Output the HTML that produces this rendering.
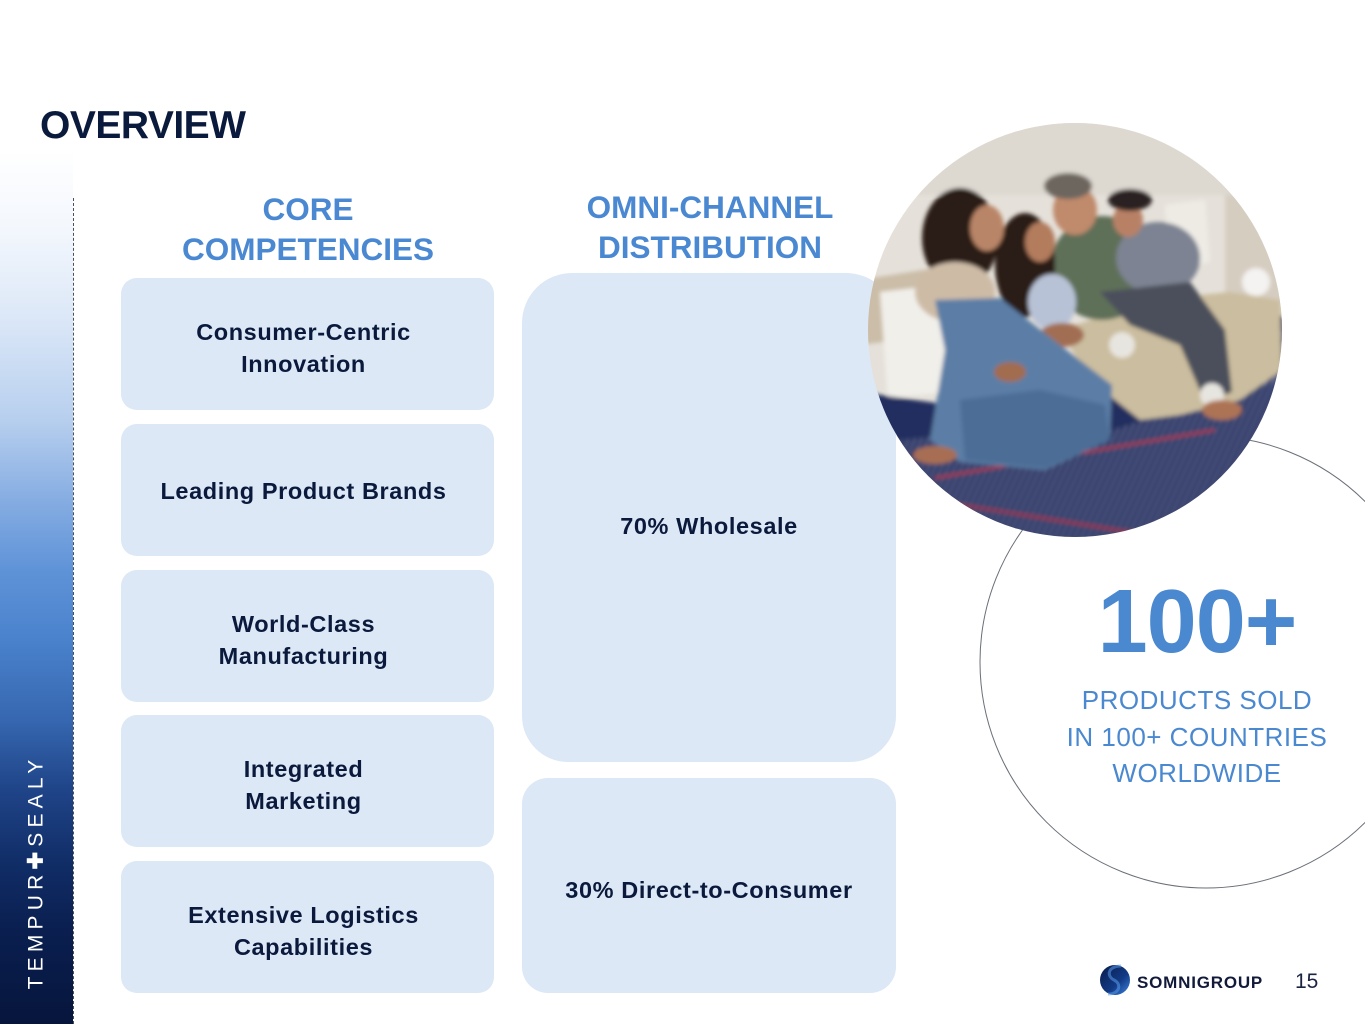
<!DOCTYPE html>
<html>
<head>
<meta charset="utf-8">
<style>
  html,body{margin:0;padding:0;}
  body{width:1365px;height:1024px;position:relative;overflow:hidden;background:#fff;font-family:"Liberation Sans",Arial,sans-serif;}
  .sidebar{position:absolute;left:0;top:0;width:73px;height:1024px;
    background:linear-gradient(to bottom,#ffffff 0px,#ffffff 150px,#f3f7fd 230px,#dbe7f7 320px,#b7cfee 420px,#86ade2 500px,#5f93d8 570px,#4a82cc 640px,#3667b0 720px,#1f4488 790px,#112e68 860px,#0a1f50 930px,#06153c 1024px);}
  .dash{position:absolute;left:73px;top:198px;height:826px;width:0;border-left:1px dashed #4a505c;}
  .brand{position:absolute;left:36px;top:872px;transform:translate(-50%,-50%) rotate(-90deg);color:#fff;font-size:21px;letter-spacing:5.2px;white-space:nowrap;}
  .title{position:absolute;left:40px;top:104px;font-size:39px;font-weight:bold;color:#0a1a3d;letter-spacing:-0.5px;}
  .head{position:absolute;color:#4a88d2;font-weight:bold;font-size:31.5px;line-height:40px;text-align:center;width:420px;}
  .box{position:absolute;background:#dce8f6;display:flex;align-items:center;justify-content:center;text-align:center;color:#0b1a3c;font-weight:bold;font-size:23.5px;line-height:32px;letter-spacing:0.6px;box-sizing:border-box;}
  .lb{left:121px;width:373px;height:132px;border-radius:16px;padding-top:7px;padding-right:8px;}
  .big{position:absolute;left:1000px;width:400px;text-align:center;}
</style>
</head>
<body>
<div class="sidebar"></div>
<div class="dash"></div>
<div class="brand">TEMPUR<span style="font-weight:bold;">✚</span>SEALY</div>

<div class="title">OVERVIEW</div>

<div class="head" style="left:98px;top:189px;">CORE<br>COMPETENCIES</div>
<div class="head" style="left:500px;top:187px;">OMNI-CHANNEL<br>DISTRIBUTION</div>

<div class="box lb" style="top:278px;">Consumer-Centric<br>Innovation</div>
<div class="box lb" style="top:424px;padding-top:2px;">Leading Product Brands</div>
<div class="box lb" style="top:570px;">World-Class<br>Manufacturing</div>
<div class="box lb" style="top:715px;">Integrated<br>Marketing</div>
<div class="box lb" style="top:861px;">Extensive Logistics<br>Capabilities</div>

<div class="box" style="left:522px;top:273px;width:374px;height:489px;border-radius:50px 50px 46px 46px;padding-top:16px;">70% Wholesale</div>
<div class="box" style="left:522px;top:778px;width:374px;height:215px;border-radius:26px;padding-top:8px;">30% Direct-to-Consumer</div>

<svg width="1365" height="1024" style="position:absolute;left:0;top:0;" xmlns="http://www.w3.org/2000/svg">
  <defs>
    <clipPath id="pc"><circle cx="1075" cy="330" r="207"/></clipPath>
    <pattern id="stripes" width="6" height="6" patternUnits="userSpaceOnUse" patternTransform="rotate(25)">
      <rect width="6" height="6" fill="#222c60"/>
      <rect width="2" height="6" fill="#aab3cc"/>
    </pattern>
    <filter id="bl" x="-10%" y="-10%" width="120%" height="120%"><feGaussianBlur stdDeviation="2"/></filter>
    <linearGradient id="lg" x1="0" y1="0" x2="1" y2="1">
      <stop offset="0" stop-color="#0a1a4a"/>
      <stop offset="0.6" stop-color="#123a86"/>
      <stop offset="1" stop-color="#3f86e0"/>
    </linearGradient>
  </defs>

  <!-- outline circle -->
  <circle cx="1206" cy="662" r="226" fill="none" stroke="#6a6f78" stroke-width="1"/>

  <!-- photo -->
  <g clip-path="url(#pc)">
    <rect x="860" y="115" width="430" height="430" fill="#e5e1da"/>
    <g filter="url(#bl)">
      <rect x="860" y="115" width="430" height="80" fill="#ddd8d0"/>
      <polygon points="860,280 935,268 935,335 860,345" fill="#cbbda7"/>
      <polygon points="880,292 940,285 948,392 888,398" fill="#f1efea"/>
      <polygon points="1165,205 1205,200 1210,262 1170,268" fill="#eeebe5"/>
      <rect x="1225" y="195" width="65" height="140" fill="#d6cdc1"/>
      <circle cx="1256" cy="282" r="14" fill="#f4f3f1"/>
      <!-- mattress -->
      <path d="M860,392 L950,405 L1080,395 L1180,370 L1235,322 L1290,315 L1290,545 L860,545 Z" fill="#232d5f"/>
      <path d="M900,440 L1000,430 L1080,440 L1160,415 L1240,380 L1290,370 L1290,545 L900,545 Z" fill="url(#stripes)" opacity="0.45"/>
      <path d="M1240,330 L1290,322 L1290,380 L1240,390 Z" fill="url(#stripes)" opacity="0.5"/>
      <line x1="935" y1="478" x2="1215" y2="430" stroke="#c0303a" stroke-width="2"/>
      <line x1="930" y1="500" x2="1180" y2="540" stroke="#b02a36" stroke-width="2"/>
      <!-- man pants beige -->
      <path d="M1060,330 L1150,300 L1230,292 L1280,300 L1282,370 L1240,400 L1180,415 L1140,420 L1090,380 Z" fill="#cbbd9f"/>
      <!-- man green shirt -->
      <ellipse cx="1102" cy="268" rx="52" ry="52" fill="#5f7059"/>
      <ellipse cx="1075" cy="210" rx="22" ry="25" fill="#c08a6c"/>
      <ellipse cx="1068" cy="186" rx="24" ry="13" fill="#6d665e"/>
      <!-- boy -->
      <ellipse cx="1158" cy="258" rx="42" ry="36" fill="#7d8392"/>
      <ellipse cx="1128" cy="220" rx="15" ry="17" fill="#b88166"/>
      <ellipse cx="1130" cy="200" rx="22" ry="11" fill="#2b2420"/>
      <path d="M1100,292 L1190,282 L1225,330 L1232,392 L1205,402 L1180,345 L1130,325 Z" fill="#4b4f5b"/>
      <circle cx="1122" cy="345" r="13" fill="#e7e5df"/>
      <circle cx="1212" cy="395" r="12" fill="#e7e5df"/>
      <ellipse cx="1222" cy="410" rx="20" ry="10" fill="#ad7355"/>
      <!-- girl -->
      <ellipse cx="1025" cy="265" rx="30" ry="52" fill="#2b1c16"/>
      <ellipse cx="1040" cy="242" rx="15" ry="20" fill="#b27b5d"/>
      <ellipse cx="1052" cy="302" rx="24" ry="28" fill="#b8c2d6"/>
      <ellipse cx="1062" cy="335" rx="22" ry="12" fill="#a26e52"/>
      <!-- woman -->
      <ellipse cx="960" cy="238" rx="38" ry="50" fill="#2c1d17"/>
      <ellipse cx="987" cy="228" rx="17" ry="23" fill="#b98567"/>
      <ellipse cx="955" cy="292" rx="40" ry="30" fill="#cdbba6"/>
      <path d="M935,300 L1000,298 L1060,345 L1112,385 L1110,440 L1045,470 L960,462 L930,440 L945,350 Z" fill="#5c7ea6"/>
      <path d="M960,400 L1040,390 L1105,405 L1110,440 L1045,468 L965,460 Z" fill="#4c6d96"/>
      <ellipse cx="1010" cy="372" rx="16" ry="10" fill="#a26c50"/>
      <ellipse cx="935" cy="455" rx="22" ry="9" fill="#a86e52"/>
    </g>
  </g>

  <!-- logo -->
  <circle cx="1115" cy="980" r="15" fill="url(#lg)"/>
  <path d="M1121,966 C1108,966 1106,976 1114,980 C1122,984 1120,994 1108,994" fill="none" stroke="#5a9ae8" stroke-width="3" opacity="0.55"/>
  <text x="1137" y="988" font-family="Liberation Sans, Arial, sans-serif" font-weight="bold" font-size="17" letter-spacing="0.8" fill="#121a3a">SOMNIGROUP</text>
  <text x="1295" y="988" font-family="Liberation Sans, Arial, sans-serif" font-size="21" fill="#1a2340">15</text>
</svg>

<div class="big" style="left:997px;top:572px;font-size:90px;font-weight:bold;color:#4a88d0;line-height:100px;letter-spacing:-1px;">100+</div>
<div class="big" style="left:997px;top:682px;font-size:26px;color:#4a88d0;line-height:36.5px;letter-spacing:0.5px;">PRODUCTS SOLD<br>IN 100+ COUNTRIES<br>WORLDWIDE</div>
</body>
</html>
